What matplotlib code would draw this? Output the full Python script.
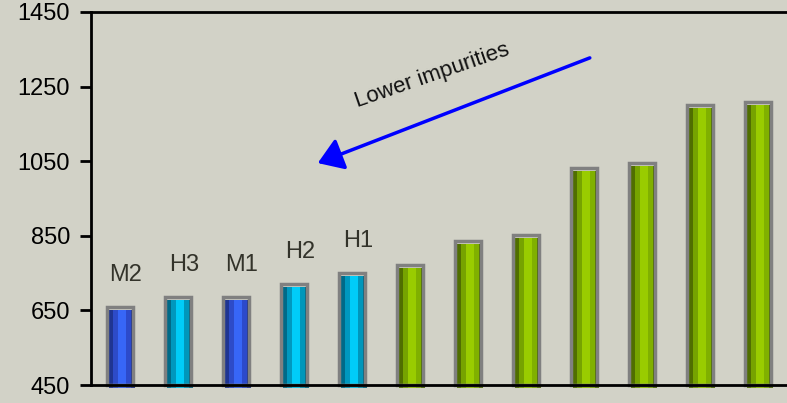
import numpy as np
import matplotlib
matplotlib.use("Agg")
import matplotlib.pyplot as plt
import matplotlib.transforms as mtransforms

# data
values = [660, 686, 686, 721, 750, 772, 836, 852, 1032, 1045, 1201, 1209]
kinds = ["M", "H", "M", "H", "H", "G", "G", "G", "G", "G", "G", "G"]
labels = ["M2", "H3", "M1", "H2", "H1", "", "", "", "", "", "", ""]
yticks = [450, 650, 850, 1050, 1250, 1450]

bg = "#D2D2C7"
# cylinder-ish shading: dark edge, mid, bright centre, mid, dark edge
shades = {
    "M": ["#1F3592", "#2D4BC8", "#3766F7", "#2C4ACB", "#1C318A"],
    "H": ["#006A88", "#0098BE", "#00CCF8", "#0096BA", "#00627E"],
    "G": ["#506E00", "#76A300", "#99CC00", "#80B000", "#4E6C00"],
}
stripe_w = [0.14, 0.2, 0.32, 0.2, 0.14]
bar_w = 0.44
base = 450

fig = plt.figure(figsize=(7.87, 4.03), dpi=100, facecolor=bg)
ax = fig.add_axes([91 / 787, 18 / 403, 696 / 787, 373 / 403])
ax.set_facecolor(bg)

x = np.arange(len(values))
heights = np.array(values) - base

# fill is shifted a little right/down like the original 3d look
shift = mtransforms.offset_copy(ax.transData, fig=fig, x=2, y=-3, units="dots")
left = -bar_w / 2
for i, w in enumerate(stripe_w):
    cols = [shades[k][i] for k in kinds]
    ax.bar(x + left + w * bar_w / 2, heights, width=w * bar_w, bottom=base,
           color=cols, linewidth=0, transform=shift, clip_on=False, zorder=1)
    left += w * bar_w

ax.bar(x, heights, width=bar_w, bottom=base, fill=False, edgecolor="#808080",
       linewidth=2.5, zorder=2, clip_on=False)

lab_font = ["Liberation Sans Narrow", "Liberation Sans", "DejaVu Sans"]
for xi, v, lb in zip(x, values, labels):
    if lb:
        ax.annotate(lb, (xi, v), xytext=(6, 32), textcoords="offset pixels",
                    ha="center", va="center", fontsize=17, color="#33332A",
                    family=lab_font)

ax.annotate("", xy=(3.41, 1045), xytext=(8.10, 1327),
            arrowprops=dict(arrowstyle="-|>,head_length=0.75,head_width=0.5",
                            mutation_scale=20, lw=2.5, color="#0000FF",
                            shrinkA=0, shrinkB=0))
ax.text(5.38, 1278, "Lower impurities", rotation=19, ha="center", va="center",
        fontsize=16, color="#111111", family=lab_font, rotation_mode="anchor")

ax.set_xlim(-0.5, len(values) - 0.5)
ax.set_ylim(450, 1450)
ax.set_yticks(yticks)
ax.set_yticklabels([str(t) for t in yticks], family=["Liberation Sans", "DejaVu Sans"],
                   fontsize=17)
ax.set_xticks([])
ax.tick_params(axis="y", length=8, width=2, direction="out", pad=7, colors="black")
for s in ["left", "bottom", "top"]:
    ax.spines[s].set_linewidth(2)
    ax.spines[s].set_color("black")
ax.spines["right"].set_visible(False)

fig.savefig("out.png", dpi=100, facecolor=bg)
